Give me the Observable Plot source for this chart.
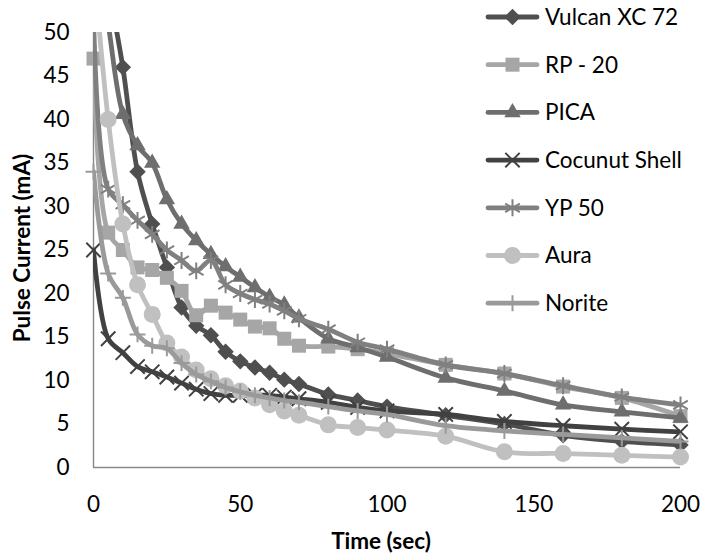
<!DOCTYPE html>
<html><head><meta charset="utf-8">
<script src="https://cdn.jsdelivr.net/npm/d3@7"></script>
<script src="https://cdn.jsdelivr.net/npm/@observablehq/plot@0.6"></script>
<style>
body{margin:0;background:#fff;}
#wrap{position:relative;width:706px;height:556px;font-family:Lato,sans-serif;}
#legend{position:absolute;left:0;top:0;pointer-events:none;}
</style></head><body>
<div id="wrap"></div>
<script>
// Data
const time    = [0,5,10,15,20,25,30,35,40,45,50,55,60,65,70,80,90,100,120,140,160,180,200];
const vulcan  = [72,56,46,34,28,23,18.4,16.3,15.2,13.3,12.2,11.5,10.9,10.1,9.6,8.4,7.7,7.0,6.0,5.0,3.7,3.0,2.6];
const rp20    = [47,27,25,23,22.7,21.8,20.3,17.5,18.6,17.8,17.0,16.2,16.0,14.8,14.0,13.9,13.6,13.1,11.8,10.8,9.3,8.0,5.9];
const pica    = [62,51,40.6,37,35,30.8,28,26.1,24.5,23.1,21.9,20.7,19.6,18.7,17.2,14.8,13.8,12.7,10.3,8.8,7.2,6.4,5.7];
const cocunut = [25,14.8,13.2,11.6,11.0,10.4,9.7,9.0,8.5,8.3,8.3,8.3,8.3,8.1,7.9,7.5,6.9,6.5,6.1,5.3,4.8,4.4,4.1];
const yp50    = [52,32,30.2,28.4,26.8,25.0,23.8,22.6,23.8,21.0,20.0,19.3,18.8,18.0,17.1,15.9,14.4,13.6,11.8,10.8,9.4,8.1,7.2];
const aura    = [58,40,28,21,17.6,14.3,12.7,11.2,10.2,9.4,8.8,8.0,7.2,6.5,6.0,4.9,4.6,4.3,3.6,1.8,1.6,1.4,1.2];
const norite  = [34,22.3,19.5,15.3,14.0,13.7,12.0,10.7,9.9,9.2,8.7,8.3,8.0,7.7,7.5,7.0,6.5,6.1,4.8,4.2,3.8,3.4,3.0];

const seriesNames   = ["Vulcan XC 72","RP - 20","PICA","Cocunut Shell","YP 50","Aura","Norite"];
const seriesValues  = [vulcan, rp20, pica, cocunut, yp50, aura, norite];
const seriesColors  = ["#4f4f4f","#a6a6a6","#6e6e6e","#414141","#808080","#c0c0c0","#9a9a9a"];
const seriesSymbols = ["diamond2","square","triangle","times","asterisk","circle","plus"];
const symbolR       = [7.4,7.9,6.1,6.6,8.0,8.5,5.2];
const symbolFilled  = [true,true,true,false,false,true,false];

const xTicks = [0,50,100,150,200];
const yTicks = [0,5,10,15,20,25,30,35,40,45,50];
const xTitle = "Time (sec)";
const yTitle = "Pulse Current (mA)";

const FONT = "Lato, sans-serif";
const FS = 22.5;

const marks = [];
marks.push(Plot.ruleY([0], {stroke:"#888", strokeWidth:1.4}));
marks.push(Plot.ruleX([0], {stroke:"#888", strokeWidth:1.4}));

seriesNames.forEach((name, i) => {
  const rows = time.map((t, j) => ({t, v: seriesValues[i][j], s: name}));
  marks.push(Plot.line(rows, {x:"t", y:"v", stroke: seriesColors[i], strokeWidth:4.8,
    curve:"catmull-rom", clip:true, strokeLinejoin:"round"}));
  const vis = rows.filter(d => d.v <= 50);
  const sym = symbolFilled[i]
    ? {fill: seriesColors[i], stroke: "none"}
    : {fill: "none", stroke: seriesColors[i], strokeWidth: 2};
  marks.push(Plot.dot(vis, {x:"t", y:"v", symbol: () => seriesSymbols[i], r: symbolR[i], ...sym}));
});

marks.push(Plot.axisX({ticks: xTicks, tickSize:0, tickPadding:29, fontSize:FS, tickFormat: d => String(d), label:null, fill:"#000"}));
marks.push(Plot.axisY({ticks: yTicks, tickSize:0, tickPadding:24, fontSize:FS, tickFormat: d => String(d), label:null, fill:"#000"}));
marks.push(Plot.text([xTitle], {frameAnchor:"bottom", lineAnchor:"middle", textAnchor:"middle", dy:74, dx:-6, fontWeight:"bold", fontSize:FS, fill:"#000", text: d => d}));
marks.push(Plot.text([yTitle], {frameAnchor:"left", lineAnchor:"middle", textAnchor:"middle", dx:-71, dy:-2, rotate:-90, fontWeight:"bold", fontSize:FS, fill:"#000", text: d => d}));

const chart = Plot.plot({
  width:706, height:556,
  marginLeft:93, marginRight:26, marginTop:32, marginBottom:89,
  x:{domain:[0,200]},
  y:{domain:[0,50]},
  style:{fontFamily:FONT, fontSize:FS+"px", background:"#fff", color:"#000"},
  marks
});
const wrap = document.getElementById("wrap");
wrap.appendChild(chart);

// Legend overlay
const symMap = {diamond2:d3.symbolDiamond2, square:d3.symbolSquare, triangle:d3.symbolTriangle,
  times:d3.symbolTimes, asterisk:d3.symbolAsterisk, circle:d3.symbolCircle, plus:d3.symbolPlus};
const lg = d3.select(wrap).append("svg").attr("id","legend").attr("width",706).attr("height",556);
seriesNames.forEach((name, i) => {
  const cy = 17 + i * 47.7;
  const g = lg.append("g").attr("transform", `translate(0,${cy})`);
  g.append("line").attr("x1",488).attr("x2",537).attr("y1",0).attr("y2",0)
    .attr("stroke", seriesColors[i]).attr("stroke-width",4.8).attr("stroke-linecap","round");
  const p = g.append("path").attr("transform","translate(512.5,0)")
    .attr("d", d3.symbol(symMap[seriesSymbols[i]], symbolR[i]*symbolR[i]*Math.PI)());
  if (symbolFilled[i]) p.attr("fill", seriesColors[i]);
  else p.attr("fill","none").attr("stroke", seriesColors[i]).attr("stroke-width",2);
  g.append("text").attr("x",545).attr("y",0).attr("dy","0.35em")
    .attr("font-family",FONT).attr("font-size",FS).attr("fill","#000").text(name);
});
</script>
</body></html>
